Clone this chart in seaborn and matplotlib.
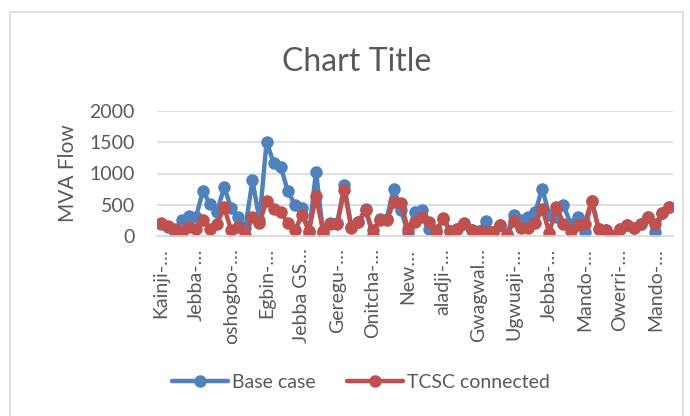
import matplotlib
matplotlib.use("Agg")
import matplotlib.pyplot as plt
from matplotlib.patches import Rectangle
import numpy as np
import pandas as pd
import seaborn as sns

# Line flows (MVA) for each of the 73 transmission lines
base_case = [
    190, 140, 45, 255, 320, 300, 720, 510, 380, 785,
    445, 300, 130, 890, 260, 1505, 1170, 1110, 720, 500,
    445, 45, 1030, 45, 210, 210, 810, 140, 220, 440,
    15, 280, 280, 760, 420, 50, 390, 420, 120, 90,
    270, 80, 120, 200, 100, 80, 240, 60, 170, 30,
    340, 260, 300, 380, 760, 330, 300, 490, 200, 300,
    60, 565, 105, 95, 5, 120, 180, 130, 200, 300,
    60, 370, 460,
]
tcsc_connected = [
    215, 155, 110, 70, 140, 115, 260, 120, 190, 460,
    90, 140, 12, 305, 215, 555, 440, 385, 210, 90,
    330, 85, 640, 75, 200, 200, 730, 130, 220, 410,
    90, 250, 250, 545, 535, 110, 230, 300, 225, 66,
    285, 80, 120, 205, 90, 65, 85, 60, 172, 13,
    240, 130, 130, 210, 435, 55, 460, 200, 80, 170,
    200, 565, 105, 95, 5, 120, 180, 130, 200, 300,
    185, 370, 460,
]
# Axis labels shown for every fifth line
tick_labels = [
    "Kainji-…", "Jebba-…", "oshogbo-…", "Egbin-…", "Jebba GS…",
    "Geregu-…", "Onitcha-…", "New…", "aladji-…", "Gwagwal…",
    "Ugwuaji-…", "Jebba-…", "Mando-…", "Owerri-…", "Mando-…",
]
series_names = ["Base case", "TCSC connected"]
y_ticks = [0, 500, 1000, 1500, 2000]

positions = np.arange(len(base_case))
df = pd.DataFrame({
    "line": np.concatenate([positions, positions]),
    "flow": base_case + tcsc_connected,
    "case": [series_names[0]] * len(base_case) + [series_names[1]] * len(tcsc_connected),
})

sns.set_theme(style="white")
plt.rcParams["font.family"] = ["Lato", "DejaVu Sans"]
text_color = "#595959"
grid_color = "#D9D9D9"
palette = {series_names[0]: "#4F81BD", series_names[1]: "#C0504D"}

W, H = 690, 416
fig = plt.figure(figsize=(W / 100, H / 100), dpi=100)
ax = fig.add_axes([157 / W, 1 - 236 / H, (673 - 157) / W, (236 - 111) / H])

sns.lineplot(data=df, x="line", y="flow", hue="case", palette=palette,
             marker="o", markersize=9, linewidth=3.2, markeredgewidth=0,
             ax=ax, legend=False, sort=False)

ax.set_xlim(-0.5, len(base_case) - 0.5)
ax.set_ylim(0, 2000)
ax.set_yticks(y_ticks)
ax.set_yticklabels([str(v) for v in y_ticks], fontsize=14, color=text_color)
ax.set_xticks(positions[::5])
ax.set_xticklabels(tick_labels, rotation=90, fontsize=14, color=text_color)
ax.tick_params(axis="x", length=0, pad=9)
ax.tick_params(axis="y", length=0, pad=16)
ax.set_xlabel("")
ax.set_ylabel("MVA Flow", fontsize=15, color=text_color, labelpad=8)
ax.yaxis.grid(True, color=grid_color, linewidth=1.2)
ax.set_axisbelow(True)
for side in ["top", "right", "left"]:
    ax.spines[side].set_visible(False)
ax.spines["bottom"].set_color(grid_color)
ax.spines["bottom"].set_linewidth(1.2)

fig.text(357 / W, 1 - 62 / H, "Chart Title", ha="center", va="center",
         fontsize=23, color=text_color)

# Legend below the axis labels
handles = [
    plt.Line2D([], [], color=palette[n], marker="o", markersize=9,
               linewidth=3.2, markeredgewidth=0)
    for n in series_names
]
fig.legend(handles, series_names, loc="center", ncol=2, frameon=False,
           bbox_to_anchor=(361 / W, 1 - 382 / H), fontsize=14,
           labelcolor=text_color, handlelength=2.9, handletextpad=0.2,
           columnspacing=1.6)

# Chart frame
fig.add_artist(Rectangle((10 / W, -0.1), (683 - 10) / W, 1.1 - 12 / H,
                         transform=fig.transFigure, fill=False,
                         edgecolor=grid_color, linewidth=1.2))

fig.savefig("out.png", dpi=100)
